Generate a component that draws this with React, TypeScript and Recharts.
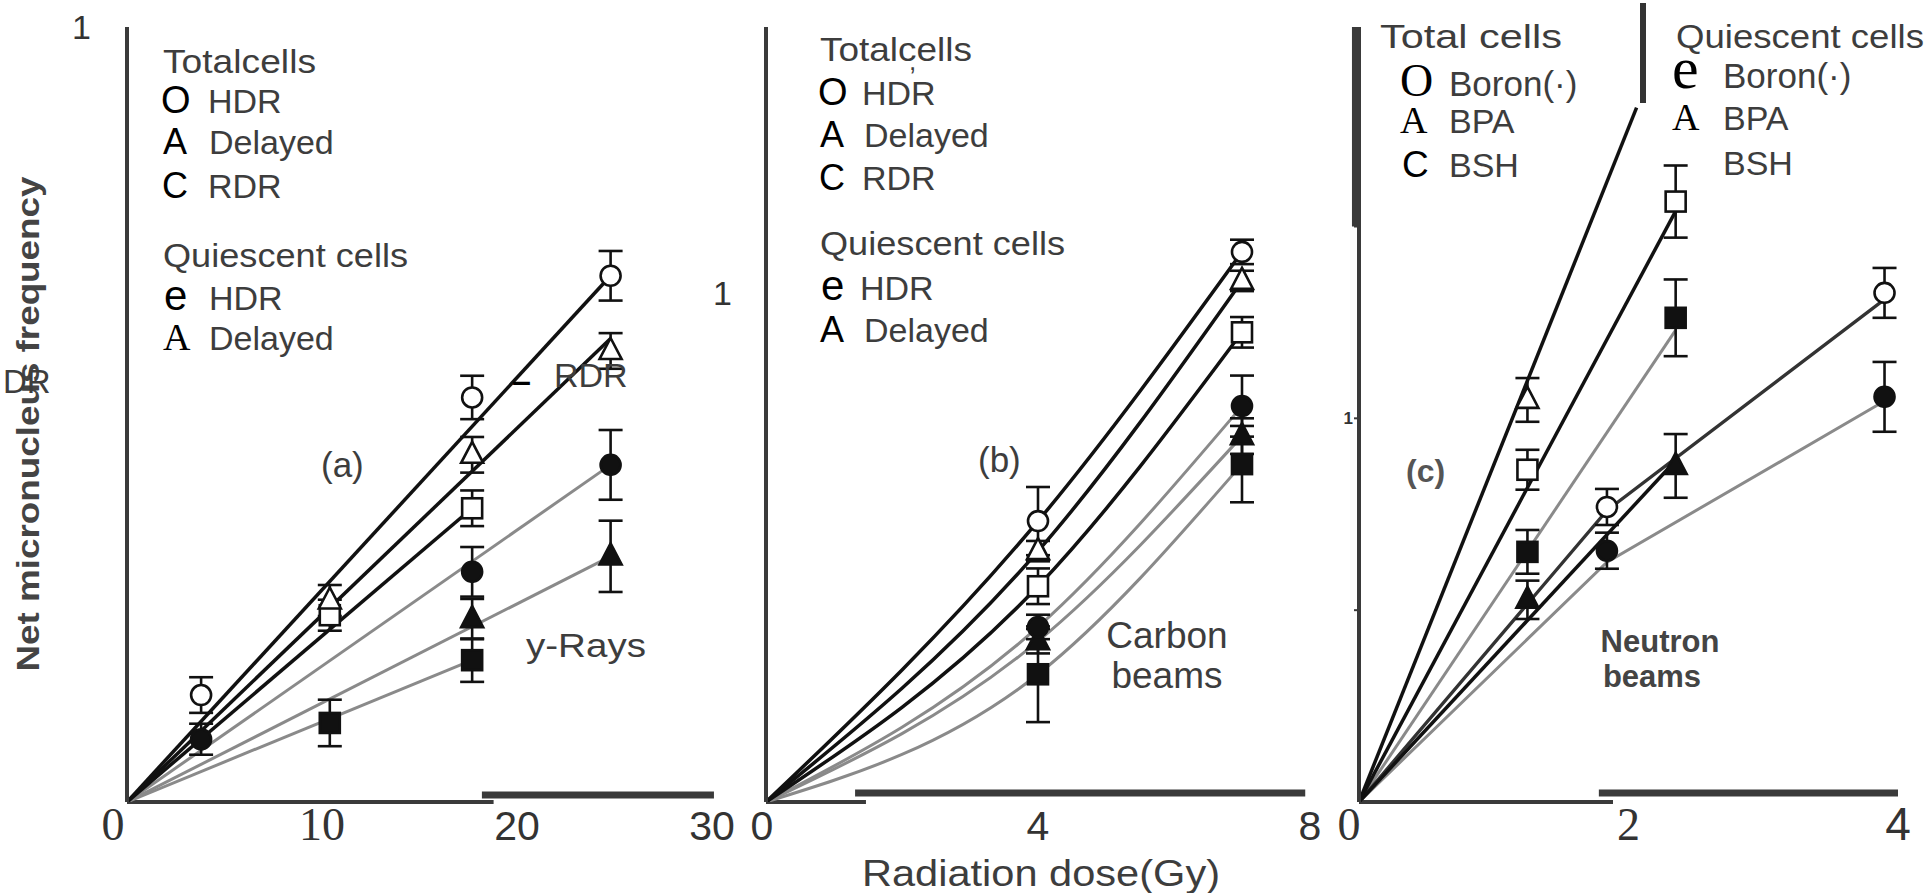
import React from "react";
import { ComposedChart, Line, Scatter, XAxis, YAxis, ErrorBar, ReferenceLine } from "recharts";

type Pt = { x: number; y: number; e: number };
type LP = { x: number; y: number };

// ---------------- (a) gamma rays ----------------
const gammaTicksX = [0, 10, 20, 30];
const gammaTicksY = [1];
const gammaTotalHDR: Pt[] = [
  { x: 3.8, y: 0.138, e: 0.023 },
  { x: 17.7, y: 0.522, e: 0.028 },
  { x: 24.8, y: 0.679, e: 0.032 },
];
const gammaTotalDelayed: Pt[] = [
  { x: 10.4, y: 0.26, e: 0.02 },
  { x: 17.7, y: 0.448, e: 0.023 },
  { x: 24.8, y: 0.582, e: 0.023 },
];
const gammaTotalRDR: Pt[] = [
  { x: 10.4, y: 0.241, e: 0.02 },
  { x: 17.7, y: 0.379, e: 0.023 },
];
const gammaQuiHDR: Pt[] = [
  { x: 3.8, y: 0.081, e: 0.02 },
  { x: 17.7, y: 0.297, e: 0.032 },
  { x: 24.8, y: 0.435, e: 0.045 },
];
const gammaQuiDelayed: Pt[] = [
  { x: 17.7, y: 0.236, e: 0.026 },
  { x: 24.8, y: 0.317, e: 0.046 },
];
const gammaQuiRDR: Pt[] = [
  { x: 10.4, y: 0.102, e: 0.03 },
  { x: 17.7, y: 0.183, e: 0.028 },
];
const gammaFitTotalHDR: LP[] = [{ x: 0, y: 0 }, { x: 24.8, y: 0.679 }];
const gammaFitTotalDelayed: LP[] = [{ x: 0, y: 0 }, { x: 24.8, y: 0.598 }];
const gammaFitTotalRDR: LP[] = [{ x: 0, y: 0 }, { x: 17.7, y: 0.379 }];
const gammaFitQuiHDR: LP[] = [{ x: 0, y: 0 }, { x: 24.8, y: 0.435 }];
const gammaFitQuiDelayed: LP[] = [{ x: 0, y: 0 }, { x: 24.8, y: 0.317 }];
const gammaFitQuiRDR: LP[] = [{ x: 0, y: 0 }, { x: 17.7, y: 0.183 }];

// ---------------- (b) carbon beams ----------------
const carbonTicksX = [0, 4, 8];
const carbonTicksY = [1];
const carbonTotalHDR: Pt[] = [
  { x: 4, y: 0.552, e: 0.067 },
  { x: 7, y: 1.081, e: 0.024 },
];
const carbonTotalDelayed: Pt[] = [
  { x: 4, y: 0.493, e: 0.02 },
  { x: 7, y: 1.024, e: 0.02 },
];
const carbonTotalRDR: Pt[] = [
  { x: 4, y: 0.424, e: 0.035 },
  { x: 7, y: 0.923, e: 0.03 },
];
const carbonQuiHDR: Pt[] = [
  { x: 4, y: 0.344, e: 0.024 },
  { x: 7, y: 0.778, e: 0.06 },
];
const carbonQuiDelayed: Pt[] = [
  { x: 4, y: 0.316, e: 0.024 },
  { x: 7, y: 0.719, e: 0.035 },
];
const carbonQuiRDR: Pt[] = [
  { x: 4, y: 0.251, e: 0.094 },
  { x: 7, y: 0.664, e: 0.075 },
];

// ---------------- (c) neutron beams ----------------
const neutronTicksX = [0, 2, 4];
const neutronTicksY = [0.5, 1, 1.5];
const neutronTotalBoron: Pt[] = [
  { x: 1.84, y: 0.769, e: 0.047 },
  { x: 3.9, y: 1.327, e: 0.065 },
];
const neutronTotalBPA: Pt[] = [{ x: 1.25, y: 1.048, e: 0.057 }];
const neutronTotalBSH: Pt[] = [
  { x: 1.25, y: 0.866, e: 0.052 },
  { x: 2.35, y: 1.565, e: 0.094 },
];
const neutronQuiBoron: Pt[] = [
  { x: 1.84, y: 0.655, e: 0.047 },
  { x: 3.9, y: 1.056, e: 0.091 },
];
const neutronQuiBPA: Pt[] = [
  { x: 1.25, y: 0.527, e: 0.05 },
  { x: 2.35, y: 0.876, e: 0.083 },
];
const neutronQuiBSH: Pt[] = [
  { x: 1.25, y: 0.652, e: 0.057 },
  { x: 2.35, y: 1.262, e: 0.1 },
];
const neutronFitTotalBPA: LP[] = [{ x: 0, y: 0 }, { x: 2.06, y: 1.81 }];
const neutronFitTotalBSH: LP[] = [{ x: 0, y: 0 }, { x: 2.35, y: 1.54 }];
const neutronFitQuiBSH: LP[] = [{ x: 0, y: 0 }, { x: 2.35, y: 1.23 }];
const neutronFitQuiBPA: LP[] = [{ x: 0, y: 0 }, { x: 2.35, y: 0.89 }];
const neutronFitTotalBoron: LP[] = [{ x: 0, y: 0 }, { x: 1.84, y: 0.76 }, { x: 3.9, y: 1.31 }];
const neutronFitQuiBoron: LP[] = [{ x: 0, y: 0 }, { x: 1.84, y: 0.625 }, { x: 3.9, y: 1.045 }];

const SANS = "'Liberation Sans', Arial, Helvetica, sans-serif";
const SERIF = "'Liberation Serif', 'Times New Roman', serif";
const INK = "#111";
const GREY = "#8a8a8a";
const AXIS = "#3a3a3a";
const TXT = "#3d3d3d";

type Kind = "circle" | "triangle" | "square";
const marker = (kind: Kind, filled: boolean) => (p: any) => {
  const { cx, cy } = p;
  if (cx == null || cy == null) return <g />;
  const fill = filled ? INK : "#fff";
  const sw = 2.6;
  if (kind === "circle")
    return <circle cx={cx} cy={cy} r={10} fill={fill} stroke={INK} strokeWidth={sw} />;
  if (kind === "square")
    return <rect x={cx - 10} y={cy - 10} width={20} height={20} fill={fill} stroke={INK} strokeWidth={sw} />;
  return (
    <polygon
      points={`${cx},${cy - 13} ${cx - 11},${cy + 8} ${cx + 11},${cy + 8}`}
      fill={fill}
      stroke={INK}
      strokeWidth={sw}
      strokeLinejoin="miter"
    />
  );
};

const makeXTick = (serifVals: number[], shifts: Record<number, number>, sansSize = 41) => (p: any) => {
  const v = p.payload.value;
  const serif = serifVals.includes(v);
  return (
    <text
      x={p.x + (shifts[v] || 0)}
      y={p.y + 38}
      textAnchor="middle"
      fontFamily={serif ? SERIF : SANS}
      fontSize={serif ? 46 : sansSize}
      fill="#333"
    >
      {v}
    </text>
  );
};

const makeYTick = (size: number, weight: string, only?: number) => (p: any) => {
  const v = p.payload.value;
  if (only !== undefined && v !== only) return <g />;
  return (
    <text x={p.x} y={p.y + size * 0.36} textAnchor="end" fontFamily={SANS} fontSize={size} fontWeight={weight} fill="#333">
      1
    </text>
  );
};

const Series = (data: Pt[], kind: Kind, filled: boolean, key: string) => (
  <Scatter key={key} data={data} dataKey="y" shape={marker(kind, filled)} isAnimationActive={false}>
    <ErrorBar dataKey="e" direction="y" width={12} stroke={INK} strokeWidth={2.6} />
  </Scatter>
);

const Fit = (data: LP[], color: string, w: number, key: string, curve: "linear" | "monotone" = "linear") => (
  <Line
    key={key}
    data={data}
    dataKey="y"
    type={curve}
    stroke={color}
    strokeWidth={w}
    dot={false}
    activeDot={false}
    isAnimationActive={false}
    legendType="none"
  />
);

const PLOT_TOP = 27;
const PLOT_H = 775;
const YW = 80;
const M = { top: 20, right: 30, bottom: 0, left: 0 };

function Panel(props: {
  left: number;
  plotW: number;
  xDomain: [number, number];
  yDomain: [number, number];
  xTicks: number[];
  yTicks: number[];
  xTick: any;
  yTick: any;
  yTickMargin: number;
  yTickLine?: boolean;
  children: React.ReactNode;
}) {
  const width = YW + props.plotW + M.right;
  const height = M.top + PLOT_H + 66;
  return (
    <div style={{ position: "absolute", left: props.left - YW, top: PLOT_TOP - M.top }}>
      <ComposedChart width={width} height={height} margin={M} style={{ overflow: "visible" }}>
        <XAxis
          type="number"
          dataKey="x"
          domain={props.xDomain}
          ticks={props.xTicks}
          allowDataOverflow
          axisLine={false}
          tickLine={false}
          tickSize={0}
          tickMargin={0}
          height={66}
          tick={props.xTick}
          interval={0}
        />
        <YAxis
          type="number"
          dataKey="y"
          domain={props.yDomain}
          ticks={props.yTicks}
          allowDataOverflow
          width={YW}
          axisLine={{ stroke: AXIS, strokeWidth: 4 }}
          tickLine={props.yTickLine ? { stroke: AXIS, strokeWidth: 2 } : false}
          tickSize={props.yTickLine ? 5 : 0}
          tickMargin={props.yTickMargin}
          tick={props.yTick}
          interval={0}
        />
        {props.children}
      </ComposedChart>
    </div>
  );
}

function T(p: {
  x: number;
  y: number;
  t: string;
  fs?: number;
  ff?: string;
  fw?: string;
  c?: string;
  anchor?: "start" | "middle" | "end";
  w?: number;
}) {
  return (
    <text
      x={p.x}
      y={p.y}
      fontSize={p.fs ?? 34}
      fontFamily={p.ff ?? SANS}
      fontWeight={p.fw ?? "normal"}
      fill={p.c ?? TXT}
      textAnchor={p.anchor ?? "start"}
      textLength={p.w}
      lengthAdjust={p.w ? "spacingAndGlyphs" : undefined}
    >
      {p.t}
    </text>
  );
}

export default function App() {
  return (
    <div style={{ position: "absolute", left: 0, top: 0, width: 1929, height: 893, background: "#fff", overflow: "hidden" }}>
      {/* (a) gamma rays */}
      <Panel
        left={127}
        plotW={585}
        xDomain={[0, 30]}
        yDomain={[0, 1]}
        xTicks={gammaTicksX}
        yTicks={gammaTicksY}
        xTick={makeXTick([0, 10], { 0: -14 })}
        yTick={makeYTick(34, "normal")}
        yTickMargin={36}
      >
        <ReferenceLine segment={[{ x: 0, y: 0 }, { x: 18.8, y: 0 }]} stroke={AXIS} strokeWidth={4} ifOverflow="visible" />
        <ReferenceLine segment={[{ x: 18.2, y: 0.009 }, { x: 30.1, y: 0.009 }]} stroke={AXIS} strokeWidth={7} ifOverflow="visible" />
        {Fit(gammaFitQuiRDR, GREY, 3, "l6")}
        {Fit(gammaFitQuiDelayed, GREY, 3, "l5")}
        {Fit(gammaFitQuiHDR, GREY, 3, "l4")}
        {Fit(gammaFitTotalRDR, INK, 3.5, "l3")}
        {Fit(gammaFitTotalDelayed, INK, 3.5, "l2")}
        {Fit(gammaFitTotalHDR, INK, 3.5, "l1")}
        {Series(gammaQuiRDR, "square", true, "s6")}
        {Series(gammaQuiDelayed, "triangle", true, "s5")}
        {Series(gammaQuiHDR, "circle", true, "s4")}
        {Series(gammaTotalRDR, "square", false, "s3")}
        {Series(gammaTotalDelayed, "triangle", false, "s2")}
        {Series(gammaTotalHDR, "circle", false, "s1")}
      </Panel>

      {/* (b) carbon beams */}
      <Panel
        left={766}
        plotW={544}
        xDomain={[0, 8]}
        yDomain={[0, 1.523]}
        xTicks={carbonTicksX}
        yTicks={carbonTicksY}
        xTick={makeXTick([], { 0: -4 }, 41)}
        yTick={makeYTick(34, "normal")}
        yTickMargin={34}
      >
        <ReferenceLine segment={[{ x: 0, y: 0 }, { x: 1.47, y: 0 }]} stroke={AXIS} strokeWidth={4} ifOverflow="visible" />
        <ReferenceLine segment={[{ x: 1.31, y: 0.0177 }, { x: 7.93, y: 0.0177 }]} stroke={AXIS} strokeWidth={7} ifOverflow="visible" />
        {Fit([{ x: 0, y: 0 }, ...carbonQuiRDR], GREY, 3, "l6", "monotone")}
        {Fit([{ x: 0, y: 0 }, ...carbonQuiDelayed], GREY, 3, "l5", "monotone")}
        {Fit([{ x: 0, y: 0 }, ...carbonQuiHDR], GREY, 3, "l4", "monotone")}
        {Fit([{ x: 0, y: 0 }, ...carbonTotalRDR], INK, 3.5, "l3", "monotone")}
        {Fit([{ x: 0, y: 0 }, ...carbonTotalDelayed], INK, 3.5, "l2", "monotone")}
        {Fit([{ x: 0, y: 0 }, ...carbonTotalHDR], INK, 3.5, "l1", "monotone")}
        {Series(carbonQuiRDR, "square", true, "s6")}
        {Series(carbonQuiDelayed, "triangle", true, "s5")}
        {Series(carbonQuiHDR, "circle", true, "s4")}
        {Series(carbonTotalRDR, "square", false, "s3")}
        {Series(carbonTotalDelayed, "triangle", false, "s2")}
        {Series(carbonTotalHDR, "circle", false, "s1")}
      </Panel>

      {/* (c) neutron beams */}
      <Panel
        left={1359}
        plotW={539}
        xDomain={[0, 4]}
        yDomain={[0, 2.02]}
        xTicks={neutronTicksX}
        yTicks={neutronTicksY}
        xTick={makeXTick([0, 2], { 0: -10 }, 46)}
        yTick={makeYTick(17, "bold", 1)}
        yTickMargin={1}
        yTickLine
      >
        <ReferenceLine segment={[{ x: 0, y: 0 }, { x: 1.885, y: 0 }]} stroke={AXIS} strokeWidth={4} ifOverflow="visible" />
        <ReferenceLine segment={[{ x: 1.78, y: 0.0235 }, { x: 4.0, y: 0.0235 }]} stroke={AXIS} strokeWidth={7} ifOverflow="visible" />
        <ReferenceLine segment={[{ x: -0.03, y: 1.5 }, { x: -0.03, y: 2.02 }]} stroke={AXIS} strokeWidth={6} ifOverflow="visible" />
        {Fit(neutronFitQuiBoron, GREY, 3, "l6")}
        {Fit(neutronFitQuiBSH, GREY, 3, "l5")}
        {Fit(neutronFitTotalBoron, "#333", 3.3, "l4")}
        {Fit(neutronFitQuiBPA, INK, 3.5, "l3")}
        {Fit(neutronFitTotalBSH, INK, 3.5, "l2")}
        {Fit(neutronFitTotalBPA, INK, 3.5, "l1")}
        {Series(neutronQuiBSH, "square", true, "s6")}
        {Series(neutronQuiBPA, "triangle", true, "s5")}
        {Series(neutronQuiBoron, "circle", true, "s4")}
        {Series(neutronTotalBSH, "square", false, "s3")}
        {Series(neutronTotalBPA, "triangle", false, "s2")}
        {Series(neutronTotalBoron, "circle", false, "s1")}
      </Panel>

      {/* text layer */}
      <svg width={1929} height={893} style={{ position: "absolute", left: 0, top: 0, pointerEvents: "none" }}>
        {/* y-axis title */}
        <text
          x={28}
          y={424}
          transform="rotate(-90 28 424)"
          textAnchor="middle"
          dominantBaseline="central"
          fontFamily={SANS}
          fontWeight="bold"
          fontSize={32}
          fill="#444"
          textLength={495}
          lengthAdjust="spacingAndGlyphs"
        >
          Net micronucleus frequency
        </text>
        <T x={3} y={393} t="DR" fs={33} />
        {/* x-axis title */}
        <T x={862} y={886} t="Radiation dose(Gy)" fs={37} w={358} />

        {/* panel (a) legend */}
        <T x={163} y={73} t="Totalcells" fs={34} w={153} />
        <T x={161} y={113} t="O" fs={38} c="#000" />
        <T x={208} y={113} t="HDR" fs={34} />
        <T x={163} y={154} t="A" fs={36} c="#000" />
        <T x={209} y={154} t="Delayed" fs={34} />
        <T x={162} y={198} t="C" fs={36} c="#000" />
        <T x={208} y={198} t="RDR" fs={34} />
        <T x={163} y={267} t="Quiescent cells" fs={34} w={245} />
        <T x={164} y={310} t="e" fs={42} c="#000" />
        <T x={209} y={310} t="HDR" fs={34} />
        <T x={163} y={350} t="A" fs={38} ff={SERIF} c="#000" />
        <T x={209} y={350} t="Delayed" fs={34} />
        <T x={512} y={392} t="–" fs={34} fw="bold" c="#000" />
        <T x={554} y={387} t="RDR" fs={34} />
        <T x={321} y={477} t="(a)" fs={35} />
        <T x={526} y={657} t="y-Rays" fs={34} w={120} />

        {/* panel (b) legend */}
        <T x={820} y={61} t="Totalcells" fs={34} w={152} />
        <T x={909} y={70} t="," fs={26} />
        <T x={818} y={105} t="O" fs={38} c="#000" />
        <T x={862} y={105} t="HDR" fs={34} />
        <T x={820} y={147} t="A" fs={36} c="#000" />
        <T x={864} y={147} t="Delayed" fs={34} />
        <T x={819} y={190} t="C" fs={36} c="#000" />
        <T x={862} y={190} t="RDR" fs={34} />
        <T x={820} y={255} t="Quiescent cells" fs={34} w={245} />
        <T x={821} y={300} t="e" fs={42} c="#000" />
        <T x={860} y={300} t="HDR" fs={34} />
        <T x={820} y={342} t="A" fs={36} c="#000" />
        <T x={864} y={342} t="Delayed" fs={34} />
        <T x={978} y={472} t="(b)" fs={35} />
        <T x={1167} y={648} t="Carbon" fs={37} anchor="middle" />
        <T x={1167} y={688} t="beams" fs={37} anchor="middle" />

        {/* panel (c) legend */}
        <rect x={1640} y={3} width={6} height={100} fill="#333" />
        <T x={1380} y={48} t="Total cells" fs={33} w={182} />
        <T x={1400} y={96} t="O" fs={46} ff={SERIF} c="#000" />
        <T x={1449} y={96} t="Boron(·)" fs={35} />
        <T x={1400} y={133} t="A" fs={38} ff={SERIF} c="#000" />
        <T x={1449} y={133} t="BPA" fs={34} />
        <T x={1402} y={177} t="C" fs={37} c="#000" />
        <T x={1449} y={177} t="BSH" fs={34} />
        <T x={1676} y={48} t="Quiescent cells" fs={33} w={248} />
        <T x={1672} y={88} t="e" fs={60} ff={SERIF} c="#000" />
        <T x={1723} y={88} t="Boron(·)" fs={35} />
        <T x={1672} y={130} t="A" fs={38} ff={SERIF} c="#000" />
        <T x={1723} y={130} t="BPA" fs={34} />
        <T x={1723} y={175} t="BSH" fs={34} />
        <T x={1406} y={482} t="(c)" fs={32} fw="bold" c="#555" />
        <T x={1660} y={652} t="Neutron" fs={31} fw="bold" c="#444" anchor="middle" />
        <T x={1652} y={687} t="beams" fs={31} fw="bold" c="#444" anchor="middle" />
      </svg>
    </div>
  );
}
